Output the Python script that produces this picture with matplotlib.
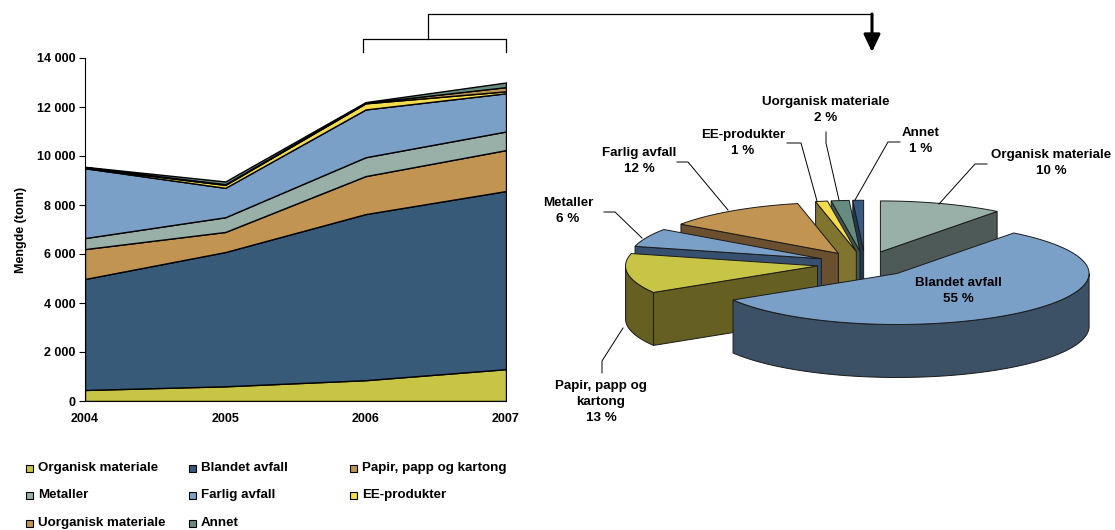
#stacked area of waste amounts plus an exploded 3d pie for 2006-2007
import numpy as np
import matplotlib
matplotlib.use('Agg')
import matplotlib.pyplot as plt

plt.rcParams['font.family'] = ['Liberation Sans', 'DejaVu Sans']
plt.rcParams['font.weight'] = 'bold'

years = [2004, 2005, 2006, 2007]
names = ['Organisk materiale', 'Blandet avfall', 'Papir, papp og kartong', 'Metaller',
         'Farlig avfall', 'EE-produkter', 'Uorganisk materiale', 'Annet']

organisk = [450, 600, 850, 1300]
blandet = [4530, 5480, 6780, 7270]
papir = [1220, 820, 1550, 1670]
metaller = [450, 600, 770, 760]
farlig = [2850, 1200, 1950, 1560]
ee = [20, 120, 250, 80]
uorganisk = [20, 30, 20, 170]
annet = [20, 110, 30, 190]

pie_share = [10.4, 55.9, 12.6, 5.8, 11.9, 1.0, 1.5, 0.9]
pie_labels = ['Organisk materiale', 'Blandet avfall', 'Papir, papp og\nkartong', 'Metaller',
              'Farlig avfall', 'EE-produkter', 'Uorganisk materiale', 'Annet']
pie_percent = [10, 55, 13, 6, 12, 1, 2, 1]

area_colors = ['#C8C446', '#375A78', '#C29452', '#99B0A8', '#7AA0C8', '#F5DC4C', '#C29452', '#668C80']
top_colors = ['#99B0A8', '#7AA0C8', '#C8C446', '#7AA0C8', '#C29452', '#F5DC4C', '#668C80', '#375A82']
side_colors = ['#4D5A57', '#3C5066', '#665F22', '#375070', '#6B5030', '#7F7530', '#3F5750', '#22394F']

fig = plt.figure(figsize=(11.15, 5.3), dpi=100)

#area chart, position in pixels converted to figure fractions
ax = fig.add_axes([85/1115, 1-401/530, (506-85)/1115, (401-58)/530])
ax.stackplot(years, organisk, blandet, papir, metaller, farlig, ee, uorganisk, annet,
             colors=area_colors, edgecolor='black', linewidth=1.0)
ax.set_xlim(2004, 2007)
ax.set_ylim(0, 14000)
ax.set_xticks(years)
ax.set_yticks(range(0, 14001, 2000))
ax.set_yticklabels([f'{v:,}'.replace(',', ' ') for v in range(0, 14001, 2000)])
ax.tick_params(labelsize=9, length=4, width=0.8, pad=3)
ax.tick_params(axis='x', length=0, pad=9)
ax.set_ylabel('Mengde (tonn)', fontsize=9, fontweight='bold', labelpad=7)
ax.spines['top'].set_visible(False)
ax.spines['right'].set_visible(False)

#overlay in pixel coordinates for the pie, bracket and legend
ov = fig.add_axes([0, 0, 1, 1], zorder=5)
ov.set_xlim(0, 1115)
ov.set_ylim(530, 0)
ov.axis('off')
ov.patch.set_alpha(0)

#bracket and arrow
ov.plot([363, 363, 506, 506], [52, 39, 39, 52], color='black', lw=0.9)
ov.plot([428, 428, 872], [39, 14, 14], color='black', lw=0.9)
ov.annotate('', xy=(872, 52), xytext=(872, 14),
            arrowprops=dict(arrowstyle='-|>,head_length=0.42,head_width=0.2', color='black',
                            lw=2.2, mutation_scale=25, shrinkA=0, shrinkB=0))

#legend, row by row
col_x = [29, 192, 353]
row_y = [468, 495, 523]
for i, name in enumerate(names):
    x = col_x[i % 3]
    y = row_y[i // 3]
    ov.add_patch(plt.Rectangle((x-3.5, y-3.5), 7, 7, fc=area_colors[i], ec='black', lw=0.8))
    ov.text(x+9, y, name, fontsize=9.6, va='center', ha='left')

#exploded pie
cx, cy = 865, 264
rx, ry = 192, 51
depth = 53
explode = 0.25

def rim(cenx, ceny, a0, a1):
    t = np.radians(np.linspace(a0, a1, 80))
    return cenx + rx*np.sin(t), ceny - ry*np.cos(t)

edges = np.cumsum([0] + pie_share) * 3.6
slices = []
for i in range(len(pie_share)):
    a0, a1 = edges[i], edges[i+1]
    mid = np.radians((a0+a1)/2)
    slices.append((a0, a1, cx + explode*rx*np.sin(mid), cy - explode*ry*np.cos(mid)))

#painter order, back slices first and the big one on top
order = [7, 6, 5, 4, 3, 2, 0, 1]
for z, i in enumerate(order):
    a0, a1, ax0, ay0 = slices[i]
    base = 10 + z*3
    style = dict(ec='#1a1a1a', lw=0.7)
    #only the cut face that looks towards the viewer
    faces = []
    if 180 <= a0 < 360:
        faces.append(a0)
    if 0 < a1 <= 180:
        faces.append(a1)
    for a in faces:
        xs, ys = rim(ax0, ay0, a, a)
        ov.fill([ax0, xs[0], xs[0], ax0], [ay0, ys[0], ys[0]+depth, ay0+depth],
                fc=side_colors[i], zorder=base, **style)
    lo, hi = max(a0, 90), min(a1, 270)
    if hi > lo:
        xs, ys = rim(ax0, ay0, lo, hi)
        ov.fill(np.r_[xs, xs[::-1]], np.r_[ys, ys[::-1]+depth],
                fc=side_colors[i], zorder=base+1, **style)
    xs, ys = rim(ax0, ay0, a0, a1)
    ov.fill(np.r_[ax0, xs], np.r_[ay0, ys], fc=top_colors[i], zorder=base+2, **style)

#pie labels and leader lines
label_pos = [(1051, 163), (958, 291), (601, 402), (568, 211), (639, 161), (743, 143), (826, 110), (921, 141)]
leaders = [[(939, 204), (975, 164), (987, 164)],
           None,
           [(623, 328), (602, 361), (602, 373)],
           [(642, 238), (615, 212), (604, 212)],
           [(728, 210), (688, 162), (677, 162)],
           [(817, 201), (801, 143), (787, 143)],
           [(839, 200), (826, 143), (826, 132)],
           [(855, 200), (888, 142), (900, 142)]]
for i, lab in enumerate(pie_labels):
    (x, y) = label_pos[i]
    ov.text(x, y, f'{lab}\n{pie_percent[i]} %', fontsize=9.6, ha='center', va='center',
            linespacing=1.4, zorder=50)
    if leaders[i]:
        ov.plot(*zip(*leaders[i]), color='black', lw=0.7, zorder=49)

fig.savefig('out.png', dpi=100)
